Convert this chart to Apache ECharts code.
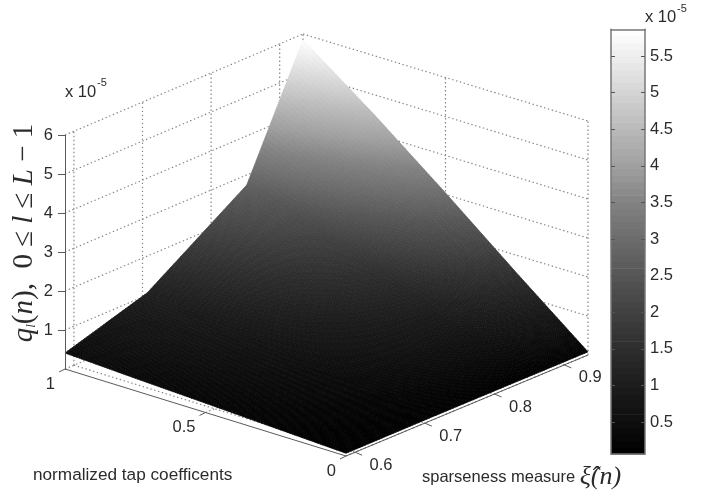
<!DOCTYPE html>
<html><head><meta charset="utf-8">
<style>html,body{margin:0;padding:0;background:#fff}#c{width:719px;height:495px;filter:blur(0.55px)}</style>
<script src="https://cdn.jsdelivr.net/npm/echarts@6/dist/echarts.min.js"></script>
</head><body><div id="c"></div>
<script>
// ---- data (q values in units of 1e-5) ----
const sparseValues = [0.587, 0.707, 0.852, 0.934];
const tapValues = [1, 0.75, 0.5, 0.25, 0];
const qRowTap100 = [0.41, 1.06, 2.74, 5.85];
const qRowTap075 = [0.32, 0.82, 2.10, 4.49];
const qRowTap050 = [0.24, 0.57, 1.45, 3.04];
const qRowTap025 = [0.155, 0.32, 0.78, 1.54];
const qRowTap000 = [0.07, 0.08, 0.08, 0.08];
const qRows = [qRowTap100, qRowTap075, qRowTap050, qRowTap025, qRowTap000];
const sparseTicks = [0.6, 0.7, 0.8, 0.9];
const tapTicks = [1, 0.5, 0];
const qTicks = [1, 2, 3, 4, 5, 6];
const colorbarTicks = [0.5, 1, 1.5, 2, 2.5, 3, 3.5, 4, 4.5, 5, 5.5];
const qMin = 0.063, qMax = 5.865, sparseMin = 0.587, sparseMax = 0.934;
// gray ramp as it looks in the picture: value -> gray level
const rampValues = [0.063, 0.5, 1, 1.5, 2, 2.5, 3, 3.5, 4, 4.5, 5, 5.5, 5.865];
const rampGrays = [0, 14, 28, 45, 65, 85, 108, 130, 160, 185, 212, 238, 255];

// ---- box layout ----
const BOX = {L:[65,369], F:[346,456], R:[588,355], B:[303,268], left:65, width:238, top:135, height:234};
const GRID_COLOR = '#858585', AXIS_COLOR = '#5a5a5a', TEXT = '#2b2b2b';
const SANS = '"Liberation Sans", Arial, sans-serif';
const SERIF = '"Liberation Serif", "DejaVu Serif", serif';

function grayAt(c){
  let i = 0; while(i < rampValues.length-2 && c > rampValues[i+1]) i++;
  const f = Math.max(0, Math.min(1, (c-rampValues[i])/(rampValues[i+1]-rampValues[i])));
  const g = Math.round(rampGrays[i]+f*(rampGrays[i+1]-rampGrays[i]));
  return 'rgb('+g+','+g+','+g+')';
}
// library scales give the sparseness and q pixel; the oblique view is applied on top
function project(api, s, t, q){
  const p = api.coord([s, q]);
  const u = (p[0]-BOX.left)/BOX.width, w = 1-t;
  const x = BOX.L[0]*(1-w)*(1-u)+BOX.F[0]*w*(1-u)+BOX.B[0]*(1-w)*u+BOX.R[0]*w*u;
  const y = BOX.L[1]*(1-w)*(1-u)+BOX.F[1]*w*(1-u)+BOX.B[1]*(1-w)*u+BOX.R[1]*w*u;
  return [x, y-(BOX.L[1]-p[1])];
}

// ---- wall grid segments, one per data row ----
const wallSegments = [];
qTicks.forEach(q=>{
  wallSegments.push([sparseMin,1,q,sparseMax,1,q]);
  wallSegments.push([sparseMax,1,q,sparseMax,0,q]);
});
sparseTicks.forEach(s=>{
  wallSegments.push([s,1,0,s,1,6]);
  wallSegments.push([s,1,0,s,0,0]);
});
tapTicks.forEach(t=>{
  wallSegments.push([sparseMax,t,0,sparseMax,t,6]);
  wallSegments.push([sparseMin,t,0,sparseMax,t,0]);
});
function renderSegment(params, api){
  const a = project(api, api.value(0), api.value(1), api.value(2));
  const b = project(api, api.value(3), api.value(4), api.value(5));
  return {type:'line', silent:true, shape:{x1:a[0],y1:a[1],x2:b[0],y2:b[1]},
    style:{stroke:GRID_COLOR, lineWidth:1.2, lineDash:[1.4,2.6]}};
}

// ---- surface patches: far ones first ----
const patches = [];
for(let r=0; r<tapValues.length-1; r++){
  for(let c=sparseValues.length-2; c>=0; c--){
    patches.push([sparseValues[c],sparseValues[c+1],tapValues[r],tapValues[r+1],
      qRows[r][c],qRows[r][c+1],qRows[r+1][c],qRows[r+1][c+1]]);
  }
}
function renderPatch(params, api){
  const s0=api.value(0), s1=api.value(1), t0=api.value(2), t1=api.value(3);
  const q00=api.value(4), q01=api.value(5), q10=api.value(6), q11=api.value(7);
  const N = 30, children = [];
  const P = (i,j)=>{
    const a=i/N, b=j/N;
    const q=q00*(1-a)*(1-b)+q01*(1-a)*b+q10*a*(1-b)+q11*a*b;
    return {p:project(api,s0+(s1-s0)*b,t0+(t1-t0)*a,q),q:q};
  };
  for(let i=0;i<N;i++) for(let j=N-1;j>=0;j--){
    const A=P(i,j),B=P(i,j+1),C=P(i+1,j+1),D=P(i+1,j);
    const col=grayAt((A.q+B.q+C.q+D.q)/4);
    children.push({type:'polygon',silent:true,shape:{points:[A.p,B.p,C.p,D.p]},
      style:{fill:col,stroke:col,lineWidth:0.7}});
  }
  return {type:'group',children:children};
}

// ---- solid floor axes with ticks ----
const axisSegments = [[sparseMin,1,0,sparseMin,0,0],[sparseMin,0,0,sparseMax,0,0]];
function renderAxisLine(params, api){
  const a = project(api, api.value(0), api.value(1), api.value(2));
  const b = project(api, api.value(3), api.value(4), api.value(5));
  return {type:'line', silent:true, z2:5, shape:{x1:a[0],y1:a[1],x2:b[0],y2:b[1]},
    style:{stroke:AXIS_COLOR, lineWidth:1}};
}
function renderTapTick(params, api){
  const t=api.value(0), a=project(api,sparseMin,t,0);
  return {type:'group',children:[
    {type:'line',silent:true,shape:{x1:a[0],y1:a[1],x2:a[0]-6,y2:a[1]+3},style:{stroke:AXIS_COLOR,lineWidth:1}},
    {type:'text',silent:true,style:{x:a[0]-10,y:a[1]+15,text:String(t),fill:TEXT,font:'16.5px '+SANS,align:'right',verticalAlign:'middle'}}
  ]};
}
function renderSparseTick(params, api){
  const s=api.value(0), a=project(api,s,0,0);
  return {type:'group',children:[
    {type:'line',silent:true,shape:{x1:a[0],y1:a[1],x2:a[0]+7,y2:a[1]+3},style:{stroke:AXIS_COLOR,lineWidth:1}},
    {type:'text',silent:true,style:{x:a[0]+26,y:a[1]+13,text:s.toFixed(1),fill:TEXT,font:'16.5px '+SANS,align:'center',verticalAlign:'middle'}}
  ]};
}
// ---- colour bar ----
function renderColorbar(params, api){
  const lo=api.value(0), hi=api.value(1), children=[];
  const x0=api.coord([0,lo])[0], x1=api.coord([1,lo])[0];
  for(let i=0;i<64;i++){
    const a=api.coord([0,lo+(hi-lo)*i/64])[1], b=api.coord([0,lo+(hi-lo)*(i+1)/64])[1];
    children.push({type:'rect',silent:true,shape:{x:x0,y:b,width:x1-x0,height:a-b+0.6},
      style:{fill:grayAt(lo+(hi-lo)*(i+0.5)/64)}});
  }
  return {type:'group',children:children};
}

const chart = echarts.init(document.getElementById('c'), null, {renderer:'canvas', width:719, height:495});
const cbAxis = (pos, labels)=>({
  type:'value', gridIndex:1, position:pos, min:qMin, max:qMax, z:6,
  axisLine:{show:true,onZero:false,lineStyle:{color:'#777',width:1.5}},
  axisTick:{show:true,inside:true,length:4,customValues:colorbarTicks,lineStyle:{color:'#555'}},
  splitLine:{show:false},
  axisLabel:{show:labels,customValues:colorbarTicks,margin:5,color:TEXT,fontFamily:SANS,fontSize:16.5}
});
const plainText = (x,y,text,size,align)=>({type:'text',x:x,y:y,style:{text:text,font:size+'px '+SANS,fill:TEXT,align:align||'left',verticalAlign:'middle'}});
chart.setOption({
  animation:false, backgroundColor:'#fff',
  grid:[
    {left:BOX.left, top:BOX.top, width:BOX.width, height:BOX.height},
    {left:611, top:29.3, width:34, height:424.7}
  ],
  xAxis:[
    {type:'value', gridIndex:0, min:sparseMin, max:sparseMax, show:false},
    {type:'value', gridIndex:1, min:0, max:1, position:'bottom', z:6, axisLine:{show:true,lineStyle:{color:'#777',width:1.5}}, axisTick:{show:false}, axisLabel:{show:false}, splitLine:{show:false}},
    {type:'value', gridIndex:1, min:0, max:1, position:'top', z:6, axisLine:{show:true,lineStyle:{color:'#777',width:1.5}}, axisTick:{show:false}, axisLabel:{show:false}, splitLine:{show:false}}
  ],
  yAxis:[
    {type:'value', gridIndex:0, min:0, max:6, interval:1, position:'left', z:6,
     axisLine:{show:true,lineStyle:{color:AXIS_COLOR}},
     axisTick:{show:true,length:7,customValues:qTicks,lineStyle:{color:AXIS_COLOR}},
     splitLine:{show:false},
     axisLabel:{customValues:qTicks,margin:12,color:TEXT,fontFamily:SANS,fontSize:16.5}},
    cbAxis('left',false),
    cbAxis('right',true)
  ],
  series:[
    {type:'custom',xAxisIndex:0,yAxisIndex:0,z:1,clip:false,data:wallSegments,renderItem:renderSegment},
    {type:'custom',xAxisIndex:0,yAxisIndex:0,z:2,clip:false,data:axisSegments,renderItem:renderAxisLine},
    {type:'custom',xAxisIndex:0,yAxisIndex:0,z:2,clip:false,data:tapTicks.map(t=>[t]),renderItem:renderTapTick},
    {type:'custom',xAxisIndex:0,yAxisIndex:0,z:2,clip:false,data:sparseTicks.map(s=>[s]),renderItem:renderSparseTick},
    {type:'custom',xAxisIndex:0,yAxisIndex:0,z:3,clip:false,progressive:0,data:patches,renderItem:renderPatch},
    {type:'custom',xAxisIndex:1,yAxisIndex:1,z:3,clip:false,data:[[qMin,qMax]],renderItem:renderColorbar,encode:{y:[0,1]}}
  ],
  graphic:[
    plainText(65,92,'x 10',16.5),
    plainText(97,83,'-5',11),
    plainText(645,17,'x 10',16.5),
    plainText(677,9,'-5',11),
    plainText(33,475,'normalized tap coefficents',17.2),
    {type:'text',x:422,y:477,style:{text:'{a|sparseness measure }{b|\u03BE\u0302(n)}',verticalAlign:'middle',rich:{
      a:{font:'16.5px '+SANS,fill:TEXT},b:{font:'italic 26px '+SERIF,fill:TEXT}}}},
    {type:'text',x:24,y:233,rotation:Math.PI/2,style:{
      text:'{i|q}{s|l}{r|(}{i|n}{r|),  0 \u2264 }{i|l}{r| \u2264 }{i|L}{r| \u2212 1}',align:'center',verticalAlign:'middle',
      rich:{i:{font:'italic 29px '+SERIF,fill:TEXT},r:{font:'29px '+SERIF,fill:TEXT},s:{font:'italic 13px '+SERIF,fill:TEXT,verticalAlign:'bottom'}}}}
  ]
});
</script></body></html>
